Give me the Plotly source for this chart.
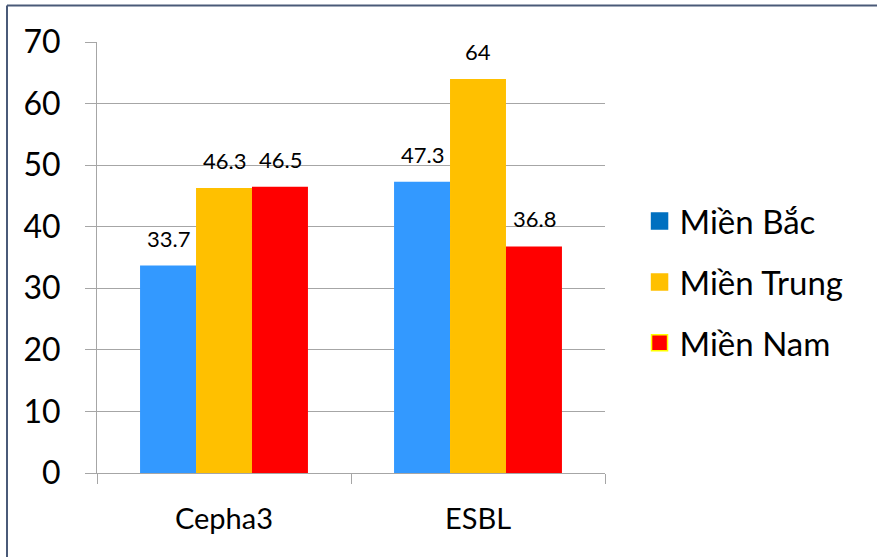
import plotly.graph_objects as go

categories = ["Cepha3", "ESBL"]
series_names = ["Miền Bắc", "Miền Trung", "Miền Nam"]
mien_bac = [33.7, 47.3]
mien_trung = [46.3, 64]
mien_nam = [46.5, 36.8]
y_ticks = [0, 10, 20, 30, 40, 50, 60, 70]

bar_colors = ["#3399FF", "#FFC000", "#FF0000"]
legend_colors = ["#0070C0", "#FFC000", "#FF0000"]
legend_lines = ["#0070C0", "#FFC000", "#FFFF00"]
FONT = "Lato, 'Noto Sans', sans-serif"

W, H = 877, 557
L, R, T, B = 97, 272, 42, 84
pw, ph = W - L - R, H - T - B

fig = go.Figure()
values = [mien_bac, mien_trung, mien_nam]
for name, vals, col in zip(series_names, values, bar_colors):
    fig.add_trace(go.Bar(x=categories, y=vals, name=name, marker_color=col,
                         marker_line_width=0, showlegend=False))

# legend entries as square swatches
for i, (name, col, lc) in enumerate(zip(series_names, legend_colors, legend_lines)):
    fig.add_trace(go.Scatter(x=[None], y=[None], mode="markers", name=name,
                             legendgroup=f"g{i}",
                             marker=dict(symbol="square", size=21, color=col,
                                         line=dict(color=lc, width=1.5))))

# value labels above bars
bar_w = 56
for j, vals in enumerate(values):
    for cat, v in zip(categories, vals):
        fig.add_annotation(x=cat, y=v, text=f"{v:g}", showarrow=False,
                           xshift=(j - 1) * bar_w, yshift=12, yanchor="bottom",
                           font=dict(family=FONT, size=22, color="#000000"))

# outer frame lines (top and left)
fx0 = (7 - L) / pw
fy_top = (H - B - 5.5) / ph
fig.add_shape(type="line", xref="paper", yref="paper", x0=fx0, x1=(W - L) / pw + 0.01,
              y0=fy_top, y1=fy_top, line=dict(color="#4A5A78", width=2))
fig.add_shape(type="line", xref="paper", yref="paper", x0=fx0, x1=fx0,
              y0=fy_top, y1=-(B + 5) / ph, line=dict(color="#4A5A78", width=2))

fig.update_layout(
    width=W, height=H,
    margin=dict(l=L, r=R, t=T, b=B, autoexpand=False),
    paper_bgcolor="white", plot_bgcolor="white",
    barmode="group", bargap=0.339, bargroupgap=0,
    font=dict(family=FONT, color="#000000"),
    legend=dict(x=1.068, y=0.443, xanchor="left", yanchor="middle",
                font=dict(family=FONT, size=33), tracegroupgap=15,
                itemsizing="trace", bgcolor="rgba(0,0,0,0)"),
    xaxis=dict(showline=True, linecolor="#A6A6A6", linewidth=1,
               ticks="outside", tickson="boundaries", ticklen=10,
               tickcolor="#A6A6A6", showgrid=False,
               tickfont=dict(family=FONT, size=29), ticklabelstandoff=20),
    yaxis=dict(range=[0, 70], tickvals=y_ticks, showline=True,
               linecolor="#A6A6A6", linewidth=1, ticks="outside", ticklen=11,
               tickcolor="#A6A6A6", showgrid=True, gridcolor="#A6A6A6",
               gridwidth=1, zeroline=False,
               tickfont=dict(family=FONT, size=32), ticklabelstandoff=18),
)

fig.write_html("out.html")
